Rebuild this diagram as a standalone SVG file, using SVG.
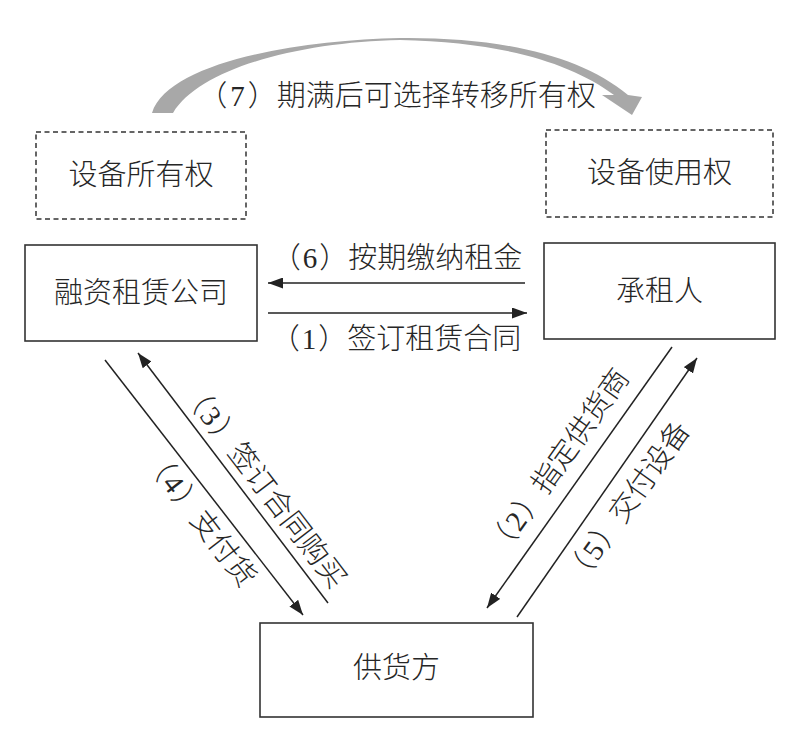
<svg xmlns="http://www.w3.org/2000/svg" width="805" height="740" viewBox="0 0 805 740">
  <style>
    .box { fill: #ffffff; stroke: #333333; stroke-width: 1.6; }
    .dash { fill: #ffffff; stroke: #333333; stroke-width: 1.5; stroke-dasharray: 5 3.5; }
    .t { font-family: "Liberation Serif", "Noto Sans CJK SC", serif; font-size: 29px; font-weight: 300; fill: #262626; text-anchor: middle; dominant-baseline: central; }
    .ln { stroke: #222222; stroke-width: 1.5; fill: none; marker-end: url(#ah); }
  </style>
  <defs>
    <marker id="ah" viewBox="0 0 15 11" refX="15" refY="5.5" markerWidth="15" markerHeight="11" markerUnits="userSpaceOnUse" orient="auto">
      <path d="M0,0 L15,5.5 L0,11 Z" fill="#222222"/>
    </marker>
  </defs>
  <rect width="805" height="740" fill="#ffffff"/>

  <g id="transfer-arc">
    <path d="M152,113 C168,62 300,40 400,38 C500,37 580,55 628,95 L642,97 L632,115 L602,95 L614,95 C570,62 500,42 400,40 C300,42 200,68 173,113 Z" fill="#a8a8a8"/>
    <text class="t" x="397" y="96">（<tspan dx="3">7</tspan><tspan dx="3">）</tspan>期满后可选择转移所有权</text>
  </g>

  <g id="ownership">
    <rect class="dash" x="36" y="132" width="210" height="87"/>
    <text class="t" x="141" y="175">设备所有权</text>
  </g>
  <g id="usage">
    <rect class="dash" x="546" y="130" width="227" height="87"/>
    <text class="t" x="659.5" y="173">设备使用权</text>
  </g>
  <g id="lessor">
    <rect class="box" x="25" y="245" width="232" height="96"/>
    <text class="t" x="141" y="293">融资租赁公司</text>
  </g>
  <g id="lessee">
    <rect class="box" x="544" y="243" width="231" height="96"/>
    <text class="t" x="659.5" y="291">承租人</text>
  </g>
  <g id="supplier">
    <rect class="box" x="260" y="623" width="273" height="94"/>
    <text class="t" x="396.5" y="668">供货方</text>
  </g>

  <g id="connectors">
    <line class="ln" x1="525" y1="283" x2="268" y2="283"/>
    <line class="ln" x1="268" y1="313" x2="527" y2="313"/>
    <line class="ln" x1="105" y1="360" x2="303" y2="615"/>
    <line class="ln" x1="328" y1="603" x2="138" y2="353"/>
    <line class="ln" x1="672" y1="347" x2="487" y2="608"/>
    <line class="ln" x1="517" y1="617" x2="697" y2="358"/>
    <text class="t" x="397" y="258">（<tspan dx="2">6</tspan><tspan dx="2">）</tspan>按期缴纳租金</text>
    <text class="t" x="396" y="338.5">（<tspan dx="2">1</tspan><tspan dx="2">）</tspan>签订租赁合同</text>
    <text class="t" transform="translate(264,485) rotate(52.5)">（<tspan dx="2">3</tspan><tspan dx="2">）</tspan>签订合同购买</text>
    <text class="t" transform="translate(200,518) rotate(52.5)">（<tspan dx="2">4</tspan><tspan dx="2">）</tspan>支付货</text>
    <text class="t" transform="translate(558,462) rotate(-54.5)">（<tspan dx="2">2</tspan><tspan dx="2">）</tspan>指定供货商</text>
    <text class="t" transform="translate(627,503) rotate(-54.5)">（<tspan dx="2">5</tspan><tspan dx="2">）</tspan>交付设备</text>
  </g>
</svg>
